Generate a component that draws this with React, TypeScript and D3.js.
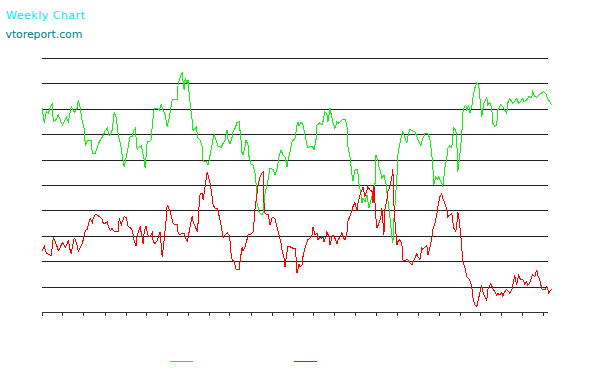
import React from "react";
import * as d3 from "d3";

const title = "Weekly Chart";
const subtitle = "vtoreport.com";

// [trading day index, value]
const greenSeries: [number, number][] = [
  [0, 80.2], [2, 74.4], [4, 78.9], [6, 78.3], [8, 80.8], [10, 81.9], [11, 74.9], [14, 75.9], [16, 77.6], [18, 75.6],
  [20, 73.6], [22, 74.9], [24, 76.7], [26, 74.9], [29, 80.8], [31, 79.5], [32, 78.5], [35, 80.2], [36, 83.5], [38, 80.2],
  [40, 74.9], [42, 72.3], [43, 65.7], [45, 67.0], [46, 67.7], [49, 67.4], [50, 62.5], [53, 62.5], [55, 64.8], [57, 67.0],
  [60, 68.8], [63, 71.3], [65, 72.3], [67, 69.3], [69, 70.6], [70, 71.7], [72, 78.5], [74, 76.7], [76, 69.7], [79, 64.8],
  [80, 61.8], [82, 57.2], [84, 61.1], [86, 65.1], [88, 69.3], [90, 69.0], [91, 71.0], [93, 72.3], [95, 63.8], [96, 64.8],
  [99, 65.4], [100, 64.1], [102, 59.8], [103, 56.6], [105, 67.0], [107, 67.0], [109, 67.7], [110, 73.0], [112, 80.2], [115, 80.2],
  [117, 79.5], [119, 81.5], [121, 79.5], [123, 77.6], [125, 73.0], [127, 76.3], [130, 83.5], [132, 83.7], [135, 83.7], [136, 90.0],
  [139, 93.3], [140, 94.0], [142, 87.4], [143, 92.0], [145, 90.0], [146, 91.3], [147, 86.1], [148, 82.2], [150, 75.6], [151, 71.4],
  [153, 72.3], [154, 73.0], [156, 68.4], [158, 67.7], [160, 65.1], [161, 59.2], [164, 59.2], [166, 57.9], [167, 59.8], [169, 63.8],
  [171, 68.4], [172, 69.9], [174, 67.7], [176, 65.4], [179, 64.8], [181, 66.4], [183, 67.7], [185, 71.7], [186, 68.0], [188, 66.1],
  [190, 68.8], [191, 71.0], [193, 72.3], [195, 74.7], [197, 74.9], [199, 67.7], [200, 62.5], [201, 61.8], [203, 65.1], [204, 67.7],
  [206, 65.7], [207, 61.1], [209, 58.3], [211, 57.9], [213, 54.6], [214, 50.7], [215, 42.8], [217, 39.5], [220, 38.2], [221, 38.9],
  [223, 46.7], [225, 50.0], [226, 52.0], [228, 56.6], [231, 56.2], [233, 53.9], [235, 56.3], [237, 61.1], [239, 63.8], [241, 61.8],
  [243, 61.1], [245, 57.2], [246, 59.8], [248, 63.1], [250, 67.0], [253, 68.4], [255, 73.6], [256, 74.9], [257, 73.2], [259, 74.9],
  [261, 73.6], [263, 69.7], [265, 65.7], [266, 64.8], [269, 65.4], [271, 64.8], [272, 63.8], [274, 67.7], [275, 73.6], [278, 74.5],
  [280, 73.6], [281, 74.9], [283, 78.9], [285, 77.6], [286, 74.9], [288, 80.2], [290, 76.3], [291, 74.3], [293, 72.3], [295, 74.9],
  [297, 74.3], [300, 75.6], [303, 75.9], [305, 73.6], [306, 65.1], [308, 61.1], [310, 54.2], [311, 51.6], [313, 55.9], [315, 56.3],
  [316, 54.6], [317, 50.7], [319, 46.7], [320, 42.8], [321, 44.8], [323, 43.4], [325, 46.1], [327, 40.8], [330, 45.4], [332, 42.8],
  [333, 49.3], [334, 61.8], [336, 59.8], [337, 57.2], [339, 54.6], [340, 52.6], [342, 53.9], [344, 50.7], [346, 44.1], [348, 37.5],
  [350, 29.6], [351, 27.0], [352, 36.2], [353, 41.5], [355, 52.8], [356, 61.8], [358, 66.4], [360, 70.1], [361, 71.0], [362, 69.7],
  [365, 66.4], [366, 69.0], [368, 72.0], [370, 71.4], [373, 71.0], [375, 69.0], [377, 67.0], [379, 65.7], [381, 68.4], [383, 70.1],
  [386, 70.1], [388, 68.4], [390, 61.8], [391, 57.2], [392, 50.0], [394, 53.3], [396, 52.0], [397, 53.3], [399, 51.3], [401, 49.6],
  [402, 52.6], [403, 56.6], [405, 60.5], [406, 64.4], [408, 65.4], [410, 64.8], [411, 68.8], [412, 72.3], [414, 71.7], [415, 67.0],
  [416, 55.2], [418, 61.8], [420, 69.7], [421, 78.2], [422, 80.2], [424, 81.5], [425, 79.5], [427, 81.5], [428, 78.2], [430, 80.8],
  [431, 84.1], [433, 88.1], [435, 90.3], [437, 89.4], [438, 84.8], [440, 76.9], [441, 79.5], [442, 82.2], [445, 84.5], [446, 81.5],
  [448, 82.4], [450, 80.2], [451, 74.3], [453, 73.2], [455, 73.6], [456, 79.5], [459, 81.5], [461, 80.8], [463, 79.5], [465, 78.2],
  [466, 82.2], [468, 84.1], [471, 82.2], [473, 82.8], [475, 84.1], [477, 82.2], [479, 82.8], [481, 84.1], [482, 82.8], [485, 83.5],
  [487, 84.8], [490, 84.5], [491, 86.7], [493, 84.8], [495, 84.5], [497, 85.4], [500, 86.3], [502, 86.7], [504, 86.1], [506, 84.1],
  [510, 81.5],
];

const redSeries: [number, number][] = [
  [0, 24.1], [2, 26.0], [4, 23.1], [6, 22.8], [8, 22.4], [9, 22.4], [10, 25.5], [11, 29.4], [13, 27.7], [15, 25.5],
  [16, 24.1], [18, 25.5], [20, 27.3], [21, 26.8], [23, 25.5], [25, 27.0], [26, 28.3], [28, 24.1], [29, 22.8], [30, 25.5],
  [32, 29.0], [33, 28.6], [35, 26.0], [36, 23.7], [38, 25.5], [40, 26.8], [41, 28.6], [43, 32.0], [45, 32.6], [46, 34.3],
  [48, 36.9], [50, 35.2], [51, 36.9], [53, 38.5], [55, 38.2], [58, 37.3], [60, 36.5], [61, 34.9], [63, 34.9], [65, 35.6],
  [66, 33.9], [68, 32.0], [70, 33.0], [71, 32.0], [73, 31.6], [76, 31.6], [77, 36.9], [79, 34.3], [80, 35.6], [82, 37.5],
  [84, 37.3], [86, 33.6], [88, 33.3], [90, 32.3], [92, 28.1], [94, 26.0], [95, 30.3], [97, 32.6], [98, 33.6], [100, 29.0],
  [101, 26.8], [102, 31.6], [104, 33.9], [105, 31.6], [106, 29.9], [108, 29.6], [110, 31.2], [111, 27.7], [113, 27.0], [115, 28.1],
  [116, 29.4], [118, 31.6], [119, 26.4], [120, 21.8], [121, 24.7], [122, 28.3], [124, 36.2], [125, 42.1], [126, 41.5], [128, 39.5],
  [130, 36.5], [131, 34.9], [133, 34.4], [135, 34.6], [136, 31.0], [138, 30.3], [140, 31.0], [142, 31.0], [144, 28.6], [145, 27.7],
  [146, 29.4], [148, 33.6], [150, 37.8], [151, 35.6], [153, 33.6], [155, 32.0], [156, 35.2], [157, 42.1], [158, 46.5], [160, 46.7],
  [161, 44.1], [163, 49.3], [165, 54.8], [166, 53.9], [168, 50.7], [170, 45.4], [171, 42.1], [173, 40.8], [175, 40.8], [176, 39.5],
  [178, 36.2], [180, 31.6], [181, 29.4], [183, 30.3], [185, 31.2], [187, 30.3], [188, 27.7], [189, 23.1], [190, 20.7], [192, 19.8],
  [194, 16.8], [196, 16.5], [197, 16.8], [199, 22.8], [200, 25.5], [201, 24.1], [203, 25.7], [205, 28.6], [206, 30.3], [209, 30.7],
  [211, 31.6], [212, 35.6], [213, 40.8], [215, 46.7], [216, 50.0], [218, 53.3], [220, 54.8], [221, 55.2], [222, 42.8], [223, 38.9],
  [225, 38.2], [226, 38.6], [228, 34.3], [230, 36.9], [231, 37.5], [233, 36.5], [235, 33.6], [237, 30.3], [239, 27.0], [240, 24.4],
  [242, 21.1], [243, 17.6], [245, 23.7], [246, 26.0], [248, 25.7], [251, 25.1], [253, 25.1], [254, 21.8], [255, 15.2], [257, 18.9],
  [258, 17.6], [260, 18.5], [261, 21.8], [263, 25.1], [265, 27.7], [266, 28.6], [268, 29.0], [270, 30.3], [271, 33.6], [273, 30.3],
  [275, 31.0], [276, 28.3], [278, 29.6], [280, 29.0], [281, 29.6], [282, 27.7], [284, 29.4], [285, 31.6], [287, 29.6], [288, 26.4],
  [290, 29.6], [291, 30.3], [293, 29.0], [295, 26.8], [296, 28.3], [298, 29.4], [300, 31.2], [301, 29.6], [303, 28.3], [305, 31.0],
  [306, 35.6], [308, 37.8], [310, 39.8], [311, 41.5], [313, 43.0], [315, 39.8], [316, 42.8], [318, 46.1], [320, 48.0], [321, 49.3],
  [323, 45.4], [325, 48.0], [326, 49.3], [328, 48.0], [330, 48.0], [331, 42.8], [332, 50.0], [334, 36.9], [335, 33.0], [337, 34.9],
  [339, 37.5], [340, 40.8], [341, 35.6], [342, 30.3], [343, 40.2], [345, 44.1], [346, 47.4], [348, 49.3], [350, 53.3], [351, 56.2],
  [352, 42.8], [353, 36.2], [355, 26.4], [356, 27.7], [358, 28.6], [360, 27.0], [361, 20.5], [363, 20.2], [365, 20.7], [366, 20.5],
  [368, 19.4], [370, 18.5], [371, 19.8], [373, 21.1], [375, 23.1], [376, 21.8], [378, 20.7], [380, 25.1], [381, 24.7], [383, 25.5],
  [385, 26.4], [386, 22.4], [388, 25.1], [390, 29.0], [391, 32.3], [393, 34.9], [395, 38.2], [396, 41.5], [398, 45.4], [400, 46.5],
  [401, 44.8], [403, 42.8], [405, 40.2], [406, 37.5], [408, 38.2], [410, 38.9], [411, 35.6], [412, 33.0], [414, 31.6], [415, 34.3],
  [416, 39.5], [417, 37.5], [419, 30.3], [420, 25.1], [421, 19.8], [423, 17.8], [425, 13.9], [426, 13.4], [428, 12.6], [430, 10.0],
  [431, 6.0], [433, 2.8], [435, 2.1], [436, 4.1], [438, 7.4], [440, 10.6], [441, 8.0], [443, 6.0], [445, 4.7], [446, 8.7],
  [449, 11.3], [451, 9.3], [453, 8.0], [455, 6.7], [456, 7.4], [458, 6.7], [460, 7.6], [461, 6.3], [463, 8.0], [465, 8.9],
  [466, 8.4], [468, 7.4], [470, 8.7], [471, 10.6], [473, 14.6], [474, 11.9], [475, 11.0], [477, 14.6], [478, 13.3], [480, 12.6],
  [481, 12.9], [483, 11.0], [485, 11.9], [486, 10.6], [488, 11.3], [490, 13.9], [491, 14.6], [493, 13.9], [495, 16.5], [496, 14.6],
  [498, 12.6], [500, 9.3], [501, 8.7], [503, 8.7], [505, 10.0], [506, 9.1], [507, 7.6], [510, 8.9],
];

// month-start ticks (trading day index)
const tickDays = [0, 20, 41, 63, 84, 104, 125, 146, 167, 187, 209, 230, 251, 271, 292, 313, 334, 355, 376, 397, 418, 438, 459, 480, 501];
const gridValues = [10, 20, 30, 40, 50, 60, 70, 80, 90, 100];

const seriesColors = { green: "#11ee11", red: "#ff0000" };

export default function App() {
  const width = 594;
  const height = 380;
  const x = d3.scaleLinear().domain([0, 510]).range([42.3, 551.7]);
  const y = d3.scaleLinear().domain([0, 100]).range([312, 58]);
  const gridX0 = 42;
  const gridX1 = 547.5;

  const line = d3
    .line<[number, number]>()
    .x((d) => x(d[0]))
    .y((d) => y(d[1]));

  return (
    <svg
      width={width}
      height={height}
      style={{ position: "absolute", left: 0, top: 0, background: "#fff" }}
      fontFamily="DejaVu Sans, Verdana, sans-serif"
    >
      <rect x={0} y={0} width={width} height={height} fill="#fff" />
      <text x={6} y={19} fontSize={11} fill="#00e8f8" letterSpacing={0.5}>
        {title}
      </text>
      <text x={5.5} y={37.5} fontSize={11} fill="#008080" letterSpacing={-0.1}>
        {subtitle}
      </text>
      {gridValues.map((v) => (
        <line
          key={v}
          x1={gridX0}
          x2={gridX1}
          y1={Math.round(y(v)) + 0.5}
          y2={Math.round(y(v)) + 0.5}
          stroke="#222"
          strokeWidth={1}
          shapeRendering="crispEdges"
        />
      ))}
      <line
        x1={gridX0}
        x2={gridX1}
        y1={Math.round(y(0)) + 0.5}
        y2={Math.round(y(0)) + 0.5}
        stroke="#333"
        strokeWidth={1}
        shapeRendering="crispEdges"
      />
      {tickDays.map((t) => (
        <line
          key={t}
          x1={Math.round(x(t)) + 0.5}
          x2={Math.round(x(t)) + 0.5}
          y1={Math.round(y(0))}
          y2={Math.round(y(0)) + 4}
          stroke="#333"
          strokeWidth={1}
          shapeRendering="crispEdges"
        />
      ))}
      <path d={line(greenSeries) || ""} fill="none" stroke={seriesColors.green} strokeWidth={1} shapeRendering="crispEdges" />
      <path d={line(redSeries) || ""} fill="none" stroke={seriesColors.red} strokeWidth={1} shapeRendering="crispEdges" />
      <line x1={170} x2={193} y1={361.5} y2={361.5} stroke="#33dd22" strokeWidth={1} shapeRendering="crispEdges" />
      <line x1={294} x2={317} y1={361.5} y2={361.5} stroke="#ee1111" strokeWidth={1} shapeRendering="crispEdges" />
    </svg>
  );
}
